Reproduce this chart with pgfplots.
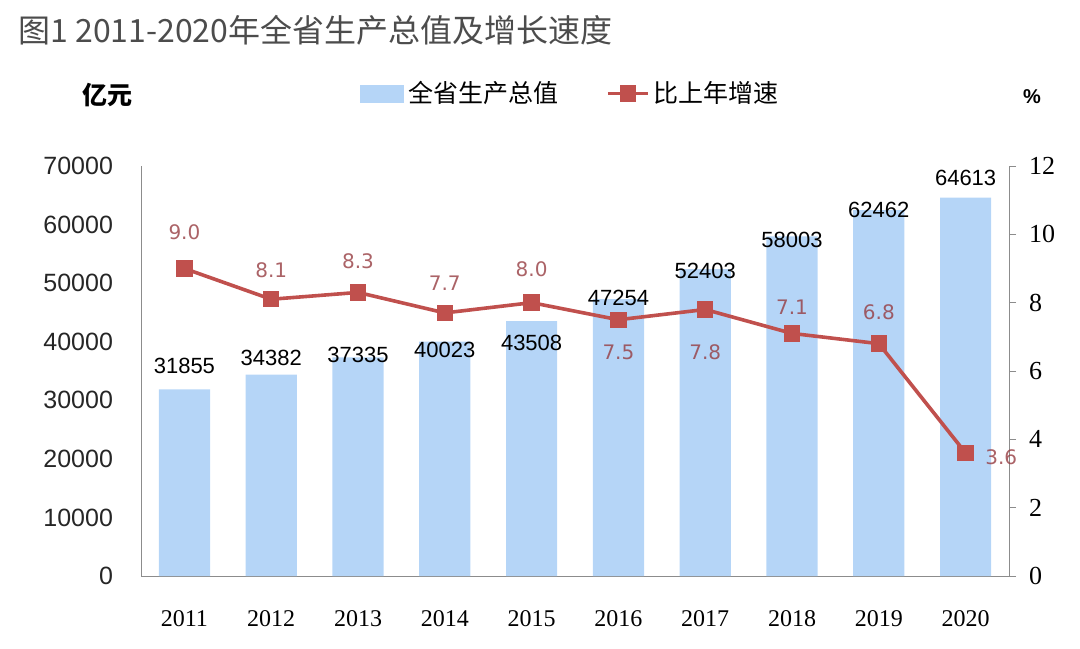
\documentclass[border=0pt]{standalone}
\usepackage{pgfplots}
\pgfplotsset{compat=1.18}
\usepackage{fontspec}
\setmainfont{Liberation Sans}
\newfontfamily\cjk{Noto Sans CJK SC}
\newfontfamily\serif{Liberation Serif}
\newfontfamily\dejavu{DejaVu Sans}
\definecolor{barblue}{RGB}{181,213,247}
\definecolor{linered}{RGB}{192,80,77}
\definecolor{labred}{RGB}{150,60,65}
\definecolor{axgray}{RGB}{140,140,140}

\pgfplotsset{
  barpatch/.style={legend image code/.code={\fill[barblue] (0pt,-4.25pt) rectangle (21.5pt,4.25pt);}},
  linepatch/.style={legend image code/.code={\draw[mark repeat=2,mark phase=2,##1] plot coordinates {(0pt,0pt) (10pt,0pt) (20pt,0pt)};}},
}

\begin{document}
\begin{tikzpicture}
\path (0,0) rectangle (540pt,324pt);
\node[anchor=west, text=black!70, font=\cjk\fontsize{16}{19}\selectfont, inner sep=0] at (9pt,309pt) {图1 2011-2020年全省生产总值及增长速度};
\node[font=\cjk\bfseries\fontsize{12.5}{14}\selectfont, inner sep=0] at (53.5pt,276.5pt) {亿元};
\node[font=\bfseries\fontsize{10}{12}\selectfont, inner sep=0] at (516pt,275.5pt) {\%};

% GDP bars, left axis
\begin{axis}[
  at={(70.5pt,36pt)}, anchor=south west,
  scale only axis, width=434pt, height=205pt,
  xmin=-0.5, xmax=9.5, ymin=0, ymax=70000,
  axis x line*=bottom, axis y line*=left,
  axis line style={axgray,-},
  xtick={0,...,9},
  xticklabels={2011,2012,2013,2014,2015,2016,2017,2018,2019,2020},
  ytick={0,10000,...,70000},
  major tick style={draw=none},
  xticklabel style={font=\serif\fontsize{12}{14}\selectfont, yshift=-13.5pt},
  yticklabel style={font=\fontsize{12.5}{15}\selectfont, text=black!85, xshift=-10.5pt},
  /pgf/number format/assume math mode=true,
  /pgf/number format/1000 sep={},
  scaled y ticks=false,
  clip=false,
]
\addplot[ybar, bar width=0.59, fill=barblue, draw=none] coordinates {
  (0,31855) (1,34382) (2,37335) (3,40023) (4,43508)
  (5,47254) (6,52403) (7,58003) (8,62462) (9,64613)};
\begin{scope}[every node/.style={font=\fontsize{11}{13}\selectfont, text=black, inner sep=0}]
\node at (axis cs:0,35854) {31855};
\node at (axis cs:1,37220) {34382};
\node at (axis cs:2,37732) {37335};
\node at (axis cs:3,38585) {40023};
\node at (axis cs:4,39780) {43508};
\node at (axis cs:5,47463) {47254};
\node at (axis cs:6,52073) {52403};
\node at (axis cs:7,57366) {58003};
\node at (axis cs:8,62488) {62462};
\node at (axis cs:9,67951) {64613};
\end{scope}
\end{axis}

% growth rate line, right axis
\begin{axis}[
  at={(70.5pt,36pt)}, anchor=south west,
  scale only axis, width=434pt, height=205pt,
  xmin=-0.5, xmax=9.5, ymin=0, ymax=12,
  hide x axis,
  axis y line*=right,
  axis line style={axgray,-},
  ytick={0,2,...,12},
  ytick style={axgray}, tick align=outside, major tick length=3.5pt,
  yticklabel style={font=\serif\fontsize{13}{15}\selectfont, xshift=3pt},
  /pgf/number format/assume math mode=true,
  clip=false,
  legend style={at={(0.5,1)}, anchor=south, xshift=-1.75pt, yshift=26pt,
    draw=none, fill=none, font=\cjk\fontsize{12.5}{14}\selectfont,
    /tikz/every even column/.append style={column sep=22pt}},
  legend columns=2,
]
\addlegendimage{barpatch}
\addlegendentry{全省生产总值}
\addplot[linered, line width=1.8pt, mark=square*, mark size=3.8pt,
  mark options={fill=linered, line width=0.6pt}, linepatch]
  coordinates {
  (0,9.0) (1,8.1) (2,8.3) (3,7.7) (4,8.0)
  (5,7.5) (6,7.8) (7,7.1) (8,6.8) (9,3.6)};
\addlegendentry{比上年增速}
\begin{scope}[every node/.style={font=\dejavu\fontsize{10}{12}\selectfont, text=labred, text opacity=0.8, inner sep=0}]
\node at (axis cs:0,10.07) {9.0};
\node at (axis cs:1,8.96) {8.1};
\node at (axis cs:2,9.22) {8.3};
\node at (axis cs:3,8.58) {7.7};
\node at (axis cs:4,8.98) {8.0};
\node at (axis cs:5,6.56) {7.5};
\node at (axis cs:6,6.56) {7.8};
\node at (axis cs:7,7.87) {7.1};
\node at (axis cs:8,7.73) {6.8};
\node at (axis cs:9.41,3.48) {3.6};
\end{scope}
\end{axis}
\end{tikzpicture}
\end{document}
